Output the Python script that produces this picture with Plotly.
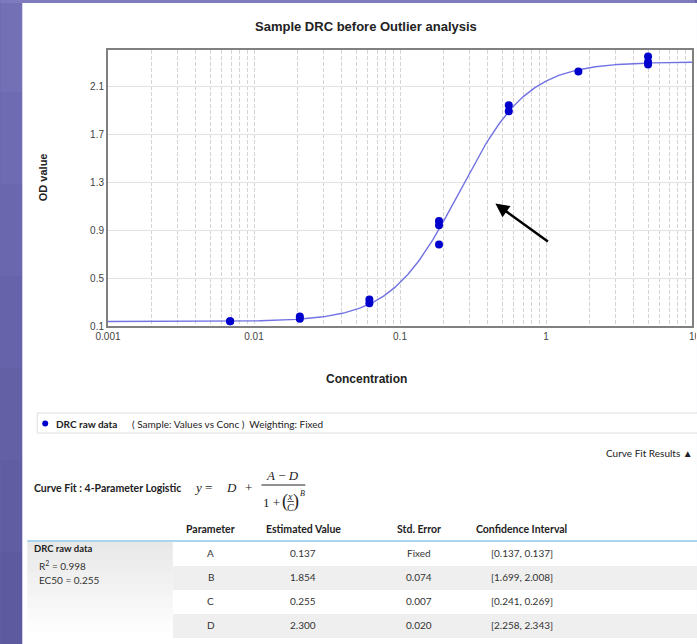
import numpy as np
import plotly.graph_objects as go

# ---- data -------------------------------------------------------------
conc = [5, 5, 5, 1.667, 0.556, 0.556, 0.185, 0.185, 0.185,
        0.0617, 0.0617, 0.0206, 0.0206, 0.00686, 0.00686]
od = [2.345, 2.30, 2.28, 2.22, 1.94, 1.89, 0.975, 0.94, 0.78,
      0.32, 0.29, 0.18, 0.16, 0.14, 0.14]

# 4-parameter logistic fit results
param_names = ["A", "B", "C", "D"]
param_values = [0.137, 1.854, 0.255, 2.300]
std_errors = ["Fixed", "0.074", "0.007", "0.020"]
conf_intervals = ["[0.137, 0.137]", "[1.699, 2.008]", "[0.241, 0.269]", "[2.258, 2.343]"]
r_squared = 0.998
ec50 = 0.255

x_decades = [0.001, 0.01, 0.1, 1, 10]
x_decade_labels = ["0.001", "0.01", "0.1", "1", "10"]
y_ticks = [0.1, 0.5, 0.9, 1.3, 1.7, 2.1]
y_tick_labels = ["0.1", "0.5", "0.9", "1.3", "1.7", "2.1"]

# ---- layout geometry (pixels) -----------------------------------------
W, H = 697, 644
PL, PR, PT, PB = 108, 694, 50, 326  # plot-area box


def px(xp):
    return (xp - PL) / (PR - PL)


def py(yp):
    return (PB - yp) / (PB - PT)


def label(xp, yp, text, font, xanchor="center", **kw):
    return dict(xref="paper", yref="paper", x=px(xp), y=py(yp), text=text,
                showarrow=False, font=font, xanchor=xanchor, yanchor="middle", **kw)


A, B, C, D = param_values
xs = np.logspace(-3, 1, 400)
ys = D + (A - D) / (1 + (xs / C) ** B)

fig = go.Figure()
fig.add_trace(go.Scatter(x=xs, y=ys, mode="lines",
                         line=dict(color="#7272e4", width=1.4),
                         hoverinfo="skip", showlegend=False))
fig.add_trace(go.Scatter(x=conc, y=od, mode="markers",
                         marker=dict(color="#0000cc", size=8),
                         name="DRC raw data", showlegend=False))

# gridline positions at every log sub-division, labels only on decades
# (the last decade label sits on the panel edge and is drawn clipped below)
grid_vals, grid_text = [], []
for e in range(-3, 1):
    for m in range(1, 10):
        v = m * 10.0 ** e
        grid_vals.append(v)
        grid_text.append(x_decade_labels[e + 3] if m == 1 else "")
grid_vals.append(x_decades[-1])
grid_text.append("")

shapes = []
annotations = []

# window background: purple frame with white panel
bands = ["#7470b6", "#6f6bb2", "#6b67ae", "#6763aa", "#6360a6", "#605da2", "#5d5a9f"]
for i, c in enumerate(bands):
    shapes.append(dict(type="rect", xref="paper", yref="paper",
                       x0=px(0), x1=px(W), y0=py(i * H / len(bands)), y1=py((i + 1) * H / len(bands)),
                       fillcolor=c, line=dict(width=0), layer="below"))
shapes.append(dict(type="rect", xref="paper", yref="paper",
                   x0=px(0), x1=px(W), y0=py(0), y1=py(3),
                   fillcolor="#7d7abd", line=dict(width=0), layer="below"))
shapes.append(dict(type="rect", xref="paper", yref="paper",
                   x0=px(22), x1=px(W + 2), y0=py(3), y1=py(H + 2),
                   fillcolor="white", line=dict(width=0), layer="below"))

# title and axis titles
AX = "Liberation Sans"
annotations.append(label(367, 26, "<b>Sample DRC before Outlier analysis</b>",
                         dict(family=AX, size=13, color="#222")))
annotations.append(label(43, 177, "<b>OD value</b>",
                         dict(family=AX, size=11, color="#222"), textangle=-90))
annotations.append(label(367, 379, "<b>Concentration</b>",
                         dict(family=AX, size=12, color="#222")))

# right-most decade label, cut off by the panel edge
annotations.append(dict(xref="paper", yref="paper", x=px(690), y=py(336),
                        text=x_decade_labels[-1], showarrow=False, xanchor="left",
                        yanchor="middle", align="left", width=7, borderpad=0,
                        font=dict(family=AX, size=10, color="#444")))

# arrow pointing at the curve
annotations.append(dict(xref="x", yref="y", x=np.log10(0.45), y=1.12, ax=54, ay=39,
                        text="", showarrow=True, arrowhead=2, arrowsize=1.1,
                        arrowwidth=2.5, arrowcolor="black"))

# legend strip
shapes.append(dict(type="rect", xref="paper", yref="paper",
                   x0=px(37), x1=px(W + 5), y0=py(413), y1=py(433),
                   fillcolor="white", line=dict(color="#dddddd", width=1)))
shapes.append(dict(type="circle", xref="paper", yref="paper",
                   x0=px(42), x1=px(48), y0=py(420.5), y1=py(426.5),
                   fillcolor="#0000cc", line=dict(width=0)))
TF = "Lato"
F_B = dict(family=TF, size=9.5, color="#222")
F_L = dict(family=TF, size=10, color="#222")
F_H = dict(family=TF, size=10.5, color="#222")
F_N = dict(family=TF, size=10, color="#333")
annotations.append(label(54, 423.5, "<b>DRC raw data</b>", F_L, xanchor="left"))
annotations.append(label(130, 423.5, "( Sample: Values vs Conc )  Weighting: Fixed", F_L, xanchor="left"))

annotations.append(label(697, 453, "Curve Fit Results \u25b2", F_L, xanchor="right"))

# curve-fit equation
annotations.append(label(32, 488, "<b>Curve Fit : 4-Parameter Logistic</b>", F_H, xanchor="left"))
SF = dict(family="Liberation Serif", size=13, color="#222")
SFs = dict(family="Liberation Serif", size=10, color="#222")
SFp = dict(family="Liberation Serif", size=18, color="#222")
eq_parts = [
    (203, 487, "<i>y</i> =", SF),
    (232, 487, "<i>D</i>", SF),
    (249, 487, "+", SF),
    (283, 475, "<i>A</i> \u2212 <i>D</i>", SF),
    (272, 502, "1 +", SF),
    (286, 501, "(", SFp),
    (291, 496, "<i>x</i>", SFs),
    (291, 507, "<i>C</i>", SFs),
    (297, 501, ")", SFp),
    (303, 493, "<i>B</i>", dict(family="Liberation Serif", size=8, color="#222")),
]
for xp_, yp_, t, f in eq_parts:
    annotations.append(label(xp_, yp_, t, f))
shapes.append(dict(type="line", xref="paper", yref="paper", x0=px(262), x1=px(306),
                   y0=py(485), y1=py(485), line=dict(color="#222", width=1)))
shapes.append(dict(type="line", xref="paper", yref="paper", x0=px(288), x1=px(294.5),
                   y0=py(501.5), y1=py(501.5), line=dict(color="#222", width=0.8)))

# results table
col_x = [211, 304, 420, 523]
headers = ["Parameter", "Estimated Value", "Std. Error", "Confidence Interval"]
for cx, h in zip(col_x, headers):
    annotations.append(label(cx, 529, f"<b>{h}</b>", F_H))

row_top = [542, 566, 590, 614]
row_h = 24
for i in range(4):
    if i % 2 == 1:
        shapes.append(dict(type="rect", xref="paper", yref="paper",
                           x0=px(173), x1=px(W + 5), y0=py(row_top[i]), y1=py(row_top[i] + row_h),
                           fillcolor="#efefef", line=dict(width=0), layer="below"))

# left cell with soft vertical shading
n_strips = 16
for k in range(n_strips):
    t = k / (n_strips - 1)
    g = int(round(0xe8 + (0xff - 0xe8) * t))
    y0 = 542 + k * (96 / n_strips)
    shapes.append(dict(type="rect", xref="paper", yref="paper",
                       x0=px(27), x1=px(173), y0=py(y0), y1=py(y0 + 96 / n_strips + 0.5),
                       fillcolor=f"rgb({g},{g},{g})", line=dict(width=0), layer="below"))
shapes.append(dict(type="line", xref="paper", yref="paper", x0=px(27), x1=px(W + 5),
                   y0=py(541), y1=py(541), line=dict(color="#a9d5ee", width=2)))

for i in range(4):
    yc = row_top[i] + row_h / 2 - 1
    cells = [param_names[i], f"{param_values[i]:.3f}", std_errors[i], conf_intervals[i]]
    for cx, txt in zip(col_x, cells):
        annotations.append(label(cx, yc, txt, F_N))

annotations.append(label(32, 548, "<b>DRC raw data</b>", F_B, xanchor="left"))
annotations.append(label(37, 565, f"R<sup>2</sup> = {r_squared:.3f}", F_N, xanchor="left"))
annotations.append(label(37, 580, f"EC50 = {ec50:.3f}", F_N, xanchor="left"))

fig.update_layout(
    width=W, height=H, autosize=False,
    margin=dict(l=PL, r=W - PR, t=PT, b=H - PB, pad=0),
    paper_bgcolor="#6a66ac", plot_bgcolor="white",
    shapes=shapes, annotations=annotations,
    showlegend=False,
)
fig.update_xaxes(type="log", range=[-3, 1], tickvals=grid_vals, ticktext=grid_text,
                 showgrid=True, gridcolor="#d4d4d4", griddash="4px,2px", gridwidth=1,
                 showline=True, mirror=True, linecolor="#808080", linewidth=2,
                 ticks="", zeroline=False,
                 tickfont=dict(family=AX, size=10, color="#444"))
fig.update_yaxes(range=[0.1, 2.4], tickvals=y_ticks, ticktext=y_tick_labels,
                 showgrid=True, gridcolor="#e2e2e2", gridwidth=1,
                 showline=True, mirror=True, linecolor="#808080", linewidth=2,
                 ticks="", zeroline=False,
                 tickfont=dict(family=AX, size=10, color="#444"))

fig.write_html("out.html")
